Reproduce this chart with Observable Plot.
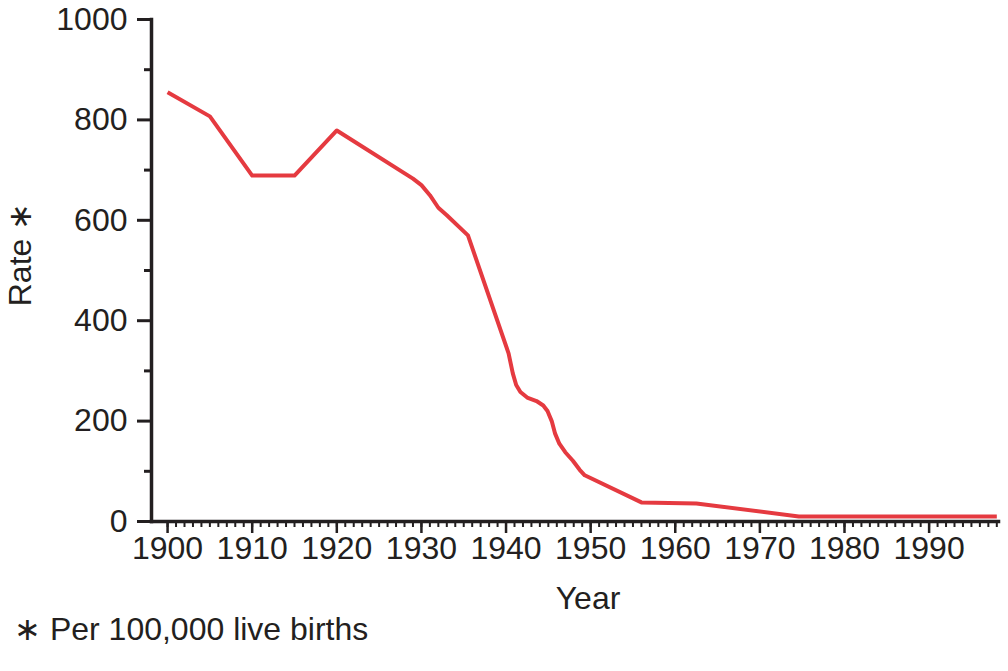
<!DOCTYPE html>
<html>
<head>
<meta charset="utf-8">
<script src="https://cdn.jsdelivr.net/npm/d3@7"></script>
<script src="https://cdn.jsdelivr.net/npm/@observablehq/plot@0.6"></script>
<style>
  body { margin: 0; background: white; }
  #wrap { position: relative; width: 1008px; height: 671px; overflow: hidden; }
  #caption { position: absolute; left: 14px; top: 613px; font: 32px "Liberation Sans", Arial, sans-serif; color: #231f20; line-height: 1; white-space: nowrap; }
</style>
</head>
<body>
<div id="wrap"><div id="chart"></div><div id="caption"></div></div>
<script>
const years = [1900, 1905, 1910, 1915, 1920, 1929, 1930, 1931, 1932, 1933, 1935.5, 1940.3, 1940.8, 1941.2, 1941.7, 1942.5, 1943.6, 1944.4, 1944.9, 1945.4, 1945.8, 1946.3, 1947, 1947.9, 1948.7, 1949.3, 1956, 1962.5, 1974.6, 1998];
const rates = [855, 807, 689, 689, 779, 683, 670, 650, 625, 610, 570, 335, 295, 272, 258, 247, 240, 231, 220, 200, 175, 155, 138, 121, 103, 92, 38, 36, 10, 10];
const xMajorTicks = [1900, 1910, 1920, 1930, 1940, 1950, 1960, 1970, 1980, 1990];
const xMinorTicks = d3.range(1900, 1999);
const yMajorTicks = [0, 200, 400, 600, 800, 1000];
const yMinorTicks = [100, 300, 500, 700, 900];
const xLabel = "Year";
const yLabel = "Rate \u2217";
const captionText = "\u2217 Per 100,000 live births";

const data = years.map((y, i) => ({year: y, rate: rates[i]}));
const ink = "#231f20";

const chart = Plot.plot({
  width: 1008,
  height: 620,
  marginTop: 19,
  marginLeft: 151,
  marginRight: 10,
  marginBottom: 99,
  x: {domain: [1898.1, 1998.2]},
  y: {domain: [0, 1000]},
  style: {fontFamily: '"Liberation Sans", Arial, sans-serif', fontSize: "32px", color: ink, background: "white"},
  marks: [
    Plot.axisX(xMinorTicks, {tickSize: 6, tickFormat: () => "", label: null, strokeWidth: 2, stroke: ink}),
    Plot.axisX(xMajorTicks, {tickSize: 12, tickPadding: 3, tickFormat: d => String(d), label: null, strokeWidth: 2.5, stroke: ink, fill: ink, fontSize: 32}),
    Plot.axisY(yMinorTicks, {tickSize: 7, tickFormat: () => "", label: null, strokeWidth: 3, stroke: ink}),
    Plot.axisY(yMajorTicks, {tickSize: 14, tickPadding: 10, tickFormat: d => String(d), label: null, strokeWidth: 3, stroke: ink, fill: ink, fontSize: 32}),
    Plot.frame({anchor: "left", stroke: ink, strokeWidth: 3.5}),
    Plot.frame({anchor: "bottom", stroke: ink, strokeWidth: 3.5}),
    Plot.line(data, {x: "year", y: "rate", stroke: "#e53a40", strokeWidth: 4, strokeLinejoin: "round", strokeLinecap: "butt"}),
    Plot.text([xLabel], {text: d => d, frameAnchor: "bottom", dx: 13, dy: 77, lineAnchor: "middle", fontSize: 32, fill: ink}),
    Plot.text([yLabel], {text: d => d, frameAnchor: "left", dx: -131, dy: -16, rotate: -90, textAnchor: "middle", lineAnchor: "middle", fontSize: 32, fill: ink})
  ]
});
document.getElementById("chart").appendChild(chart);
document.getElementById("caption").textContent = captionText;
</script>
</body>
</html>
